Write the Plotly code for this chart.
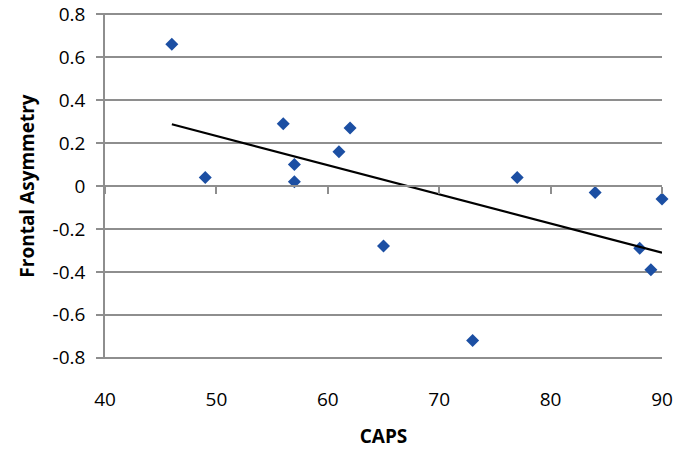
import numpy as np
import plotly.graph_objects as go

caps = [46, 49, 56, 57, 57, 61, 62, 65, 73, 77, 84, 88, 89, 90]
asym = [0.66, 0.04, 0.29, 0.10, 0.02, 0.16, 0.27, -0.28, -0.72, 0.04, -0.03, -0.29, -0.39, -0.06]
x_ticks = [40, 50, 60, 70, 80, 90]
y_ticks = [-0.8, -0.6, -0.4, -0.2, 0, 0.2, 0.4, 0.6, 0.8]
y_labels = ["-0.8", "-0.6", "-0.4", "-0.2", "0", "0.2", "0.4", "0.6", "0.8"]

slope, intercept = np.polyfit(caps, asym, 1)
trend_x = [min(caps), max(caps)]
trend_y = [slope * v + intercept for v in trend_x]

FONT = "Open Sans"
GRID = "#8e8e8e"
PAD = "\u00a0\u200a"
Y_RANGE = [-0.806, 0.806]  # tiny padding so the end gridlines are kept

fig = go.Figure()
fig.add_trace(go.Scatter(x=caps, y=asym, mode="markers",
                         marker=dict(symbol="diamond", size=10, color="#1c4fa3"),
                         showlegend=False, cliponaxis=False))
fig.add_trace(go.Scatter(x=trend_x, y=trend_y, mode="lines",
                         line=dict(color="black", width=2.2), showlegend=False))
# invisible trace to host the zero-crossing axis
fig.add_trace(go.Scatter(x=[x_ticks[0], x_ticks[-1]], y=[0, 0], xaxis="x2", mode="markers",
                         marker=dict(opacity=0), showlegend=False, hoverinfo="skip"))

fig.update_layout(
    width=689, height=450,
    margin=dict(l=105, r=27, t=13, b=91, autoexpand=False),
    paper_bgcolor="white", plot_bgcolor="white",
    font=dict(family=FONT, size=19, color="black"),
    xaxis=dict(range=[40, 90], tickvals=x_ticks, showgrid=False, zeroline=False,
               showline=False, ticks="", ticklabelstandoff=27, automargin=False,
               title=dict(text="<b>CAPS</b>", font=dict(size=19), standoff=18)),
    xaxis2=dict(range=[40, 90], tickvals=x_ticks, overlaying="x", anchor="free",
                position=0.5, showline=True, linecolor=GRID, linewidth=2,
                ticks="outside", ticklen=7, tickcolor=GRID, tickwidth=2,
                showticklabels=False, showgrid=False, zeroline=False, automargin=False),
    yaxis=dict(range=Y_RANGE, tickvals=y_ticks, ticktext=[t + PAD for t in y_labels],
               showgrid=True, gridcolor=GRID, gridwidth=2, zeroline=False,
               showline=True, linecolor=GRID, linewidth=2, automargin=False,
               ticks="outside", ticklen=7, tickcolor=GRID, tickwidth=2,
               title=dict(text="<b>Frontal Asymmetry</b>", font=dict(size=19), standoff=13)),
)

fig.write_html("out.html", config={"displayModeBar": False},
               post_script="document.body.style.margin='0';")
